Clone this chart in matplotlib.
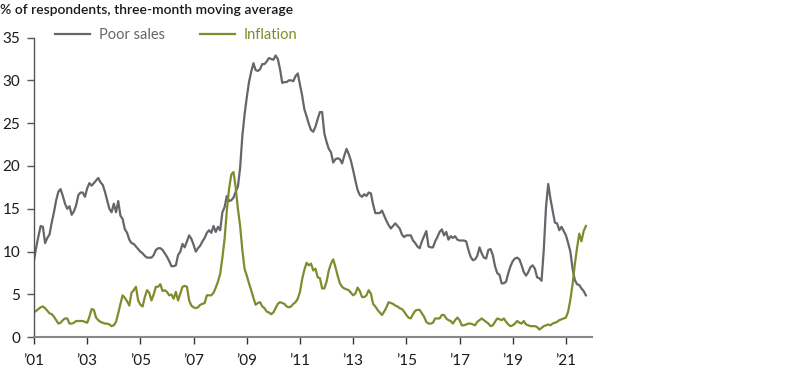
import numpy as np
import matplotlib
matplotlib.use("Agg")
import matplotlib.pyplot as plt

plt.rcParams['font.family'] = ['Lato', 'DejaVu Sans']

start_year = 2001
tick_years = list(range(2001, 2022, 2))
tick_labels = ["\u2019%02d" % (y % 100) for y in tick_years]

poor_sales = [
    9.0, 10.5, 11.8, 13.0, 12.9, 11.0, 11.6, 12.0, 13.4, 14.6, 16.0, 17.0,   # 2001
    17.3, 16.5, 15.6, 15.0, 15.3, 14.3, 14.7, 15.4, 16.6, 16.9, 16.9, 16.4,  # 2002
    17.4, 18.0, 17.7, 18.0, 18.3, 18.6, 18.1, 17.8, 17.0, 16.0, 15.0, 14.6,  # 2003
    15.6, 14.6, 15.9, 14.2, 13.8, 12.6, 12.2, 11.4, 11.0, 10.9, 10.6, 10.3,  # 2004
    10.0, 9.8, 9.5, 9.3, 9.3, 9.3, 9.6, 10.2, 10.4, 10.4, 10.2, 9.8,         # 2005
    9.4, 8.9, 8.3, 8.3, 8.4, 9.6, 10.0, 10.9, 10.5, 11.2, 11.9, 11.5,        # 2006
    10.8, 10.0, 10.4, 10.7, 11.2, 11.6, 12.2, 12.5, 12.2, 13.0, 12.3, 12.9,  # 2007
    12.5, 14.6, 15.2, 16.5, 15.9, 16.0, 16.3, 17.0, 17.6, 19.8, 23.5, 26.0,  # 2008
    28.0, 29.8, 31.0, 32.0, 31.2, 31.1, 31.3, 31.9, 31.9, 32.2, 32.6, 32.5,  # 2009
    32.4, 32.9, 32.5, 31.3, 29.7, 29.8, 29.8, 30.0, 30.0, 29.9, 30.5, 30.8,  # 2010
    29.5, 28.2, 26.6, 25.8, 24.9, 24.2, 24.0, 24.6, 25.5, 26.3, 26.3, 23.8,  # 2011
    22.8, 22.0, 21.6, 20.4, 20.8, 20.9, 20.8, 20.3, 21.2, 22.0, 21.4, 20.6,  # 2012
    19.5, 18.3, 17.2, 16.6, 16.4, 16.7, 16.5, 16.9, 16.8, 15.5, 14.5, 14.5,  # 2013
    14.5, 14.8, 14.2, 13.6, 13.1, 12.7, 13.0, 13.3, 13.0, 12.7, 12.0, 11.7,  # 2014
    11.9, 11.9, 11.9, 11.3, 11.0, 10.6, 10.4, 11.2, 11.8, 12.4, 10.6, 10.5,  # 2015
    10.5, 11.2, 11.7, 12.3, 12.6, 11.9, 12.3, 11.4, 11.8, 11.6, 11.8, 11.4,  # 2016
    11.3, 11.3, 11.3, 11.2, 10.2, 9.4, 9.0, 9.1, 9.5, 10.5, 9.8, 9.3,        # 2017
    9.2, 10.2, 10.3, 9.6, 8.3, 7.5, 7.3, 6.3, 6.3, 6.5, 7.5, 8.3,            # 2018
    8.9, 9.2, 9.3, 9.1, 8.4, 7.6, 7.2, 7.6, 8.2, 8.4, 8.0, 7.0,              # 2019
    6.9, 6.6, 10.2, 15.2, 17.9, 16.2, 14.8, 13.4, 13.3, 12.5, 12.9, 12.4,    # 2020
    11.9, 11.0, 10.0, 8.0, 6.7, 6.2, 6.1, 5.7, 5.4, 4.9,                     # 2021
]

inflation = [
    2.9, 3.1, 3.3, 3.5, 3.6, 3.4, 3.1, 2.8, 2.7, 2.4, 2.0, 1.6,   # 2001
    1.7, 2.0, 2.2, 2.2, 1.6, 1.6, 1.7, 1.9, 1.9, 1.9, 1.9, 1.8,   # 2002
    1.7, 2.4, 3.3, 3.2, 2.3, 2.0, 1.8, 1.7, 1.6, 1.6, 1.5, 1.3,   # 2003
    1.4, 1.8, 2.8, 3.9, 4.9, 4.6, 4.2, 3.7, 5.2, 5.5, 5.9, 4.3,   # 2004
    3.8, 3.6, 4.7, 5.5, 5.2, 4.3, 5.0, 5.9, 5.9, 6.2, 5.4, 5.5,   # 2005
    5.3, 4.9, 5.0, 4.5, 5.3, 4.3, 5.1, 5.9, 6.0, 5.9, 4.3, 3.7,   # 2006
    3.5, 3.4, 3.5, 3.8, 3.9, 4.0, 4.9, 4.9, 4.9, 5.2, 5.8, 6.5,   # 2007
    7.4, 9.3, 11.5, 14.8, 17.3, 19.0, 19.3, 17.5, 15.0, 13.0, 10.2, 8.0,  # 2008
    7.2, 6.3, 5.5, 4.6, 3.8, 4.0, 4.1, 3.6, 3.4, 3.0, 2.9, 2.7,   # 2009
    2.9, 3.4, 3.9, 4.1, 4.0, 3.9, 3.6, 3.5, 3.6, 3.9, 4.1, 4.5,   # 2010
    5.3, 6.8, 7.9, 8.7, 8.4, 8.6, 7.8, 8.0, 7.0, 6.9, 5.7, 5.7,   # 2011
    6.5, 7.8, 8.6, 9.1, 8.2, 7.2, 6.3, 5.9, 5.7, 5.6, 5.5, 5.2,   # 2012
    4.9, 5.1, 5.8, 5.4, 4.7, 4.7, 4.9, 5.5, 5.1, 3.9, 3.6, 3.2,   # 2013
    2.9, 2.6, 3.0, 3.5, 4.1, 4.0, 3.9, 3.7, 3.6, 3.4, 3.3, 3.0,   # 2014
    2.6, 2.3, 2.2, 2.7, 3.1, 3.2, 3.2, 2.8, 2.4, 1.8, 1.6, 1.6,   # 2015
    1.7, 2.2, 2.2, 2.2, 2.6, 2.6, 2.2, 2.0, 1.9, 1.6, 2.0, 2.3,   # 2016
    2.0, 1.4, 1.4, 1.5, 1.6, 1.6, 1.5, 1.4, 1.8, 2.0, 2.2, 2.0,   # 2017
    1.8, 1.6, 1.3, 1.4, 1.8, 2.2, 2.1, 2.0, 2.2, 1.8, 1.5, 1.3,   # 2018
    1.4, 1.6, 1.9, 1.7, 1.6, 1.9, 1.5, 1.4, 1.3, 1.3, 1.3, 1.2,   # 2019
    0.9, 1.1, 1.3, 1.4, 1.5, 1.4, 1.6, 1.7, 1.8, 2.0, 2.1, 2.2,   # 2020
    2.3, 3.0, 4.4, 6.2, 8.5, 10.4, 12.1, 11.2, 12.4, 13.0,        # 2021
]

GRAY = "#63666a"
GREEN = "#818a2c"
TEXT = "#1a1a1a"

x = start_year + np.arange(len(poor_sales)) / 12.0

fig = plt.figure(figsize=(8.0, 3.7), dpi=100)
ax = fig.add_axes([0.0425, 0.0884, 0.6975, 0.8102])

ax.plot(x, poor_sales, color=GRAY, lw=1.6, label="Poor sales", solid_joinstyle="round")
ax.plot(x, inflation, color=GREEN, lw=1.6, label="Inflation", solid_joinstyle="round")

ax.set_xlim(2001, 2021.98)
ax.set_ylim(0, 35)
ax.set_yticks(range(0, 36, 5))
ax.set_xticks(tick_years)
ax.set_xticklabels(tick_labels)

for s in ["top", "right"]:
    ax.spines[s].set_visible(False)
ax.spines["left"].set_color("#555555")
ax.spines["bottom"].set_color("#888888")
ax.spines["left"].set_linewidth(1.0)
ax.spines["bottom"].set_linewidth(1.5)
ax.tick_params(axis="y", length=5, width=1, color="#555555", labelsize=11,
               labelcolor=TEXT, pad=5)
ax.tick_params(axis="x", length=5, width=1, color="#333333", labelsize=11,
               labelcolor=TEXT, pad=7)

leg = ax.legend(loc="upper left", bbox_to_anchor=(0.015, 1.075), ncol=2, frameon=False,
                fontsize=10.5, handlelength=2.4, columnspacing=2.4, handletextpad=0.6,
                labelcolor="linecolor")

fig.text(0.0, 0.99, "% of respondents, three-month moving average", fontsize=10,
         fontweight="semibold", color=TEXT, ha="left", va="top")

fig.savefig("out.png", dpi=100)
